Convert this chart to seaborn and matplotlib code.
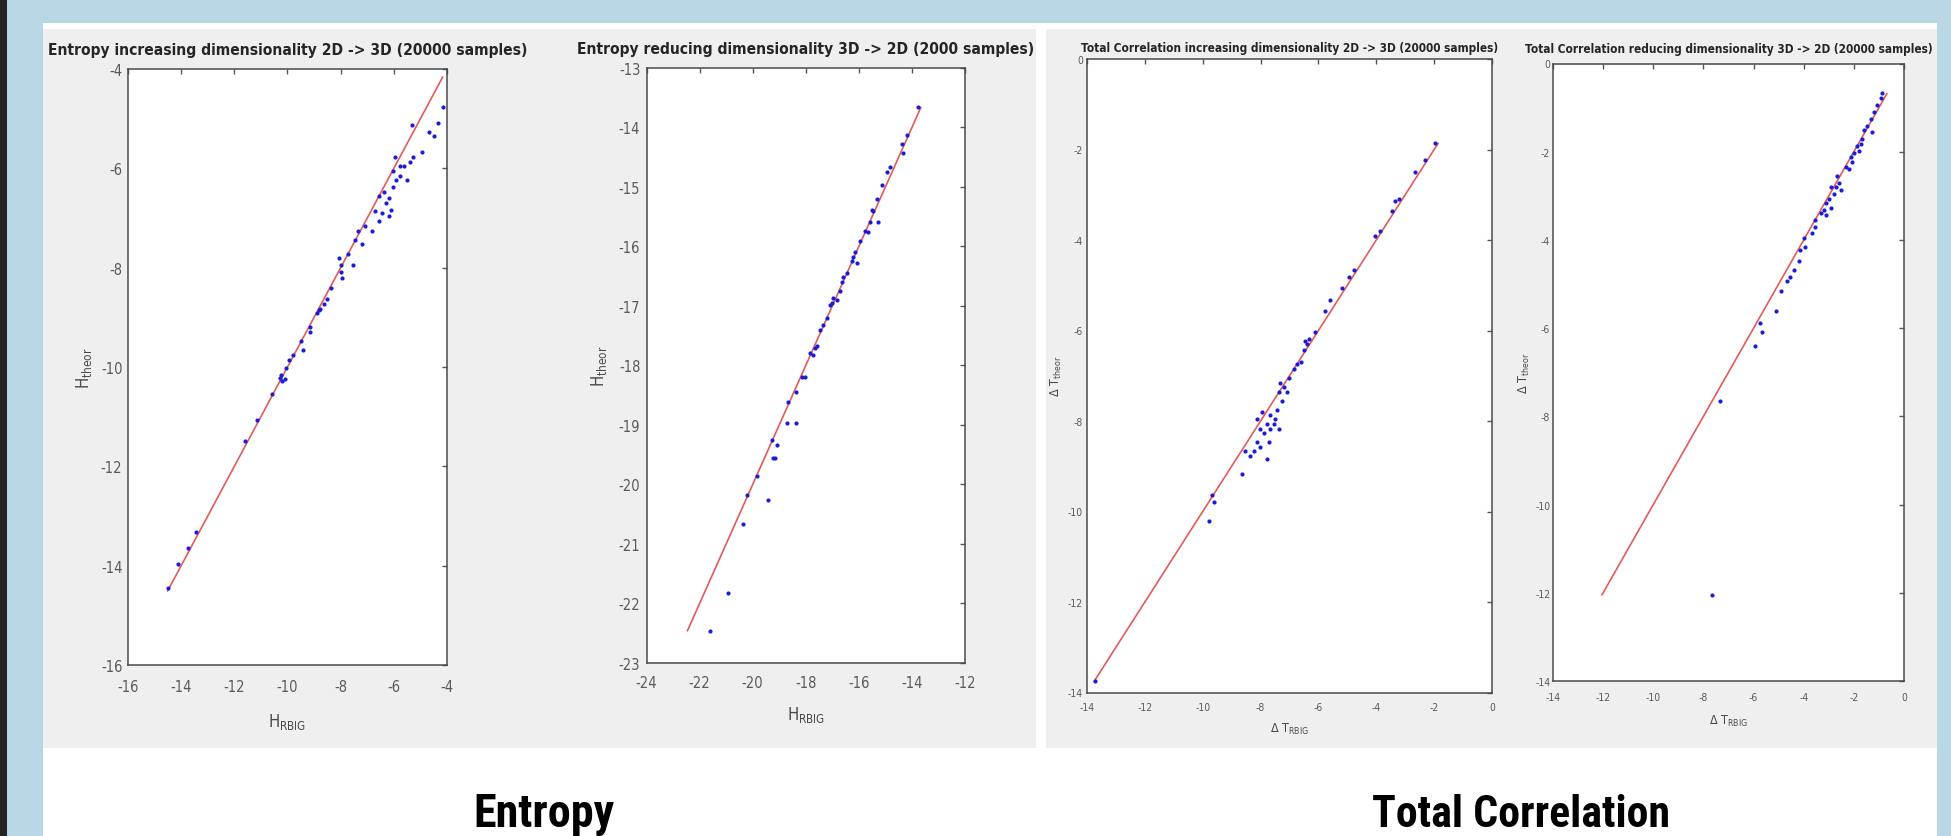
import numpy as np
import pandas as pd
import matplotlib
matplotlib.use("Agg")
import matplotlib.pyplot as plt
import seaborn as sns
from matplotlib.patches import Rectangle
from matplotlib import font_manager as fm

# ---------------- data ----------------
ent_inc_rbig = [
    -14.51, -14.12, -13.73, -13.43, -11.61, -11.16, -10.58, -10.30, -10.20, -10.10,
    -10.25, -10.06, -9.80, -9.48, -9.41, -9.15, -9.15, -8.90, -8.76, -8.63,
    -8.50, -8.37, -8.05, -7.99, -7.73, -7.53, -7.46, -7.33, -7.20, -7.07,
    -6.82, -6.56, -6.56, -6.43, -6.36, -6.30, -6.17, -6.10, -6.04, -6.04,
    -5.97, -5.90, -5.78, -5.78, -5.52, -5.40, -5.33, -5.27, -4.94, -4.68,
    -4.35, -4.16, -8.00, -7.95, -6.70, -6.20, -5.60, -4.50, -9.95, -8.80]
ent_inc_theor = [
    -14.45, -13.96, -13.64, -13.32, -11.49, -11.07, -10.54, -10.22, -10.28, -10.25,
    -10.17, -10.03, -9.75, -9.48, -9.66, -9.20, -9.29, -8.92, -8.83, -8.74,
    -8.64, -8.41, -7.81, -8.09, -7.72, -7.95, -7.44, -7.26, -7.53, -7.17,
    -7.26, -7.07, -6.56, -6.89, -6.47, -6.70, -6.60, -6.84, -6.38, -6.05,
    -5.78, -6.24, -6.15, -5.96, -6.24, -5.87, -5.13, -5.78, -5.68, -5.27,
    -5.08, -4.76, -7.95, -8.20, -6.85, -6.95, -5.95, -5.35, -9.85, -8.85]

ent_red_rbig = [
    -21.61, -20.92, -20.38, -20.23, -19.82, -19.41, -19.22, -19.16, -19.29, -19.10,
    -18.72, -18.37, -18.66, -18.35, -18.16, -18.03, -17.84, -17.72, -17.59, -17.47,
    -17.34, -17.21, -17.09, -16.96, -16.84, -16.71, -16.59, -16.46, -16.27, -16.21,
    -16.08, -15.96, -15.77, -15.58, -15.52, -15.33, -15.27, -15.14, -14.95, -14.83,
    -14.39, -14.32, -14.20, -13.76, -17.65, -17.00, -16.65, -16.15, -15.65, -15.45]
ent_red_theor = [
    -22.46, -21.83, -20.67, -20.18, -19.85, -20.26, -19.56, -19.56, -19.25, -19.33,
    -18.97, -18.97, -18.61, -18.44, -18.20, -18.20, -17.79, -17.83, -17.67, -17.40,
    -17.32, -17.21, -16.98, -16.86, -16.90, -16.75, -16.51, -16.44, -16.24, -16.17,
    -16.28, -15.90, -15.74, -15.59, -15.39, -15.20, -15.59, -14.97, -14.74, -14.66,
    -14.27, -14.43, -14.12, -13.66, -17.70, -16.95, -16.60, -16.10, -15.75, -15.40]

tc_inc_rbig = [
    -13.71, -1.96, -2.30, -2.65, -3.23, -3.34, -3.46, -3.86, -4.03, -4.78,
    -4.95, -5.19, -5.59, -5.76, -6.11, -6.34, -6.45, -6.51, -6.74, -6.86,
    -7.03, -7.20, -7.37, -7.43, -7.26, -7.66, -7.78, -7.55, -7.89, -8.01,
    -8.12, -8.24, -8.35, -8.53, -8.01, -7.78, -7.72, -7.66, -7.49, -7.37,
    -8.64, -9.62, -9.68, -9.79, -8.12, -7.95, -7.09, -7.32, -6.60, -6.40]
tc_inc_theor = [
    -13.75, -1.86, -2.23, -2.49, -3.09, -3.14, -3.35, -3.80, -3.91, -4.67,
    -4.82, -5.07, -5.33, -5.58, -6.04, -6.19, -6.24, -6.44, -6.75, -6.85,
    -7.05, -7.25, -7.36, -7.76, -7.56, -7.86, -8.07, -8.07, -8.27, -8.17,
    -8.47, -8.67, -8.78, -8.67, -8.57, -8.83, -8.47, -8.17, -7.96, -8.17,
    -9.18, -9.79, -9.64, -10.20, -7.96, -7.81, -7.36, -7.15, -6.70, -6.30]

tc_red_rbig = [
    -7.64, -7.33, -5.93, -5.67, -5.73, -5.11, -4.89, -4.67, -4.53, -4.40,
    -4.20, -4.13, -3.93, -4.00, -3.67, -3.53, -3.53, -3.33, -3.20, -3.13,
    -3.00, -2.93, -2.80, -2.73, -2.60, -2.53, -2.33, -2.20, -2.07, -2.00,
    -1.87, -1.80, -1.67, -1.60, -1.47, -1.33, -1.27, -1.20, -1.07, -0.93,
    -0.87, -2.67, -3.13, -2.93, -2.13, -1.73]
tc_red_theor = [
    -12.05, -7.65, -6.40, -6.09, -5.88, -5.62, -5.15, -4.94, -4.84, -4.68,
    -4.48, -4.22, -4.16, -3.96, -3.85, -3.70, -3.54, -3.38, -3.33, -3.17,
    -3.07, -3.28, -2.97, -2.81, -2.71, -2.86, -2.34, -2.39, -2.24, -2.03,
    -1.87, -1.98, -1.72, -1.51, -1.41, -1.25, -1.56, -1.09, -0.94, -0.78,
    -0.68, -2.55, -3.43, -2.81, -2.13, -1.82]

titles = [
    "Entropy increasing dimensionality 2D -> 3D (20000 samples)",
    "Entropy reducing dimensionality 3D -> 2D (2000 samples)",
    "Total Correlation increasing dimensionality 2D -> 3D (20000 samples)",
    "Total Correlation reducing dimensionality 3D -> 2D (20000 samples)",
]
xlabels = [r"$\mathregular{H_{RBIG}}$", r"$\mathregular{H_{RBIG}}$",
           r"$\mathregular{Δ\ T_{RBIG}}$", r"$\mathregular{Δ\ T_{RBIG}}$"]
ylabels = [r"$\mathregular{H_{theor}}$", r"$\mathregular{H_{theor}}$",
           r"$\mathregular{Δ\ T_{theor}}$", r"$\mathregular{Δ\ T_{theor}}$"]
xticks_list = [list(range(-16, -3, 2)), list(range(-24, -11, 2)),
               list(range(-14, 1, 2)), list(range(-14, 1, 2))]
yticks_list = [list(range(-16, -3, 2)), list(range(-23, -12, 1)),
               list(range(-14, 1, 2)), list(range(-14, 1, 2))]
group_labels = ["Entropy", "Total Correlation"]

# ---------------- style ----------------
sns.set_style("white")
plt.rcParams['font.family'] = ['DejaVu Sans']
plt.rcParams['font.stretch'] = 'condensed'
plt.rcParams['mathtext.fontset'] = 'dejavusans'
plt.rcParams['mathtext.default'] = 'regular'

installed = {f.name for f in fm.fontManager.ttflist}
narrow_pref = ['Liberation Sans Narrow', 'Roboto Condensed', 'Arial Narrow',
               'Nimbus Sans Narrow', 'Open Sans Condensed', 'Liberation Sans']
big_family = next((f for f in narrow_pref if f in installed), 'DejaVu Sans')

W, H = 1951, 837
fig = plt.figure(figsize=(W / 100, H / 100), dpi=100)
fig.patch.set_facecolor('#b9d7e5')


def frac(l, t, r, b):
    return [l / W, 1 - b / H, (r - l) / W, (b - t) / H]


def bg(l, t, r, b, color):
    x, y, w, h = frac(l, t, r, b)
    fig.add_artist(Rectangle((x, y), w, h, transform=fig.transFigure,
                             facecolor=color, edgecolor='none', zorder=-10))


bg(0, 0, 7, H, '#242424')
bg(43, 24, 1937, H, '#ffffff')
bg(43, 30, 1036, 749, '#efefef')
bg(1046, 30, 1937, 749, '#efefef')

panels = [
    dict(x=ent_inc_rbig, y=ent_inc_theor, box=(128, 70, 447, 666), tw=480,
         tfs=13, tpad=10.5, tick_fs=10.5, xpad=10, ypad=4, lab_fs=12,
         xlpad=12, ylpad=5),
    dict(x=ent_red_rbig, y=ent_red_theor, box=(646.5, 69, 965, 664), tw=459,
         tfs=13, tpad=11, tick_fs=10.5, xpad=9, ypad=4.5, lab_fs=12,
         xlpad=10, ylpad=7),
    dict(x=tc_inc_rbig, y=tc_inc_theor, box=(1087, 60, 1492, 693.5), tw=417,
         tfs=9.5, tpad=5.5, tick_fs=7.5, xpad=7, ypad=3, lab_fs=9,
         xlpad=6, ylpad=3),
    dict(x=tc_red_rbig, y=tc_red_theor, box=(1553, 64.5, 1904, 682), tw=408,
         tfs=9.5, tpad=8.5, tick_fs=7.5, xpad=8, ypad=2, lab_fs=9,
         xlpad=8, ylpad=2),
]

axes = []
for i, p in enumerate(panels):
    ax = fig.add_axes(frac(*p['box']))
    axes.append(ax)
    ax.set_facecolor('white')
    xs = np.array(p['x'])
    ys = np.array(p['y'])
    lo = min(xs.min(), ys.min())
    hi = max(xs.max(), ys.max())
    sns.lineplot(x=[lo, hi], y=[lo, hi], ax=ax, color='#e35a5a', linewidth=1.2,
                 zorder=2)
    df = pd.DataFrame({'rbig': xs, 'theor': ys})
    sns.scatterplot(data=df, x='rbig', y='theor', ax=ax, color='#1c1cd8',
                    s=9, linewidth=0, zorder=3, legend=False)
    xt, yt = xticks_list[i], yticks_list[i]
    ax.set_xlim(xt[0], xt[-1])
    ax.set_ylim(yt[0], yt[-1])
    ax.set_xticks(xt)
    ax.set_yticks(yt)
    ax.set_xticklabels([str(v) for v in xt])
    ax.set_yticklabels([str(v) for v in yt])
    ax.tick_params(direction='in', top=True, right=True, length=3.5, width=1,
                   color='#555555', labelcolor='#5a5a5a', labelsize=p['tick_fs'])
    ax.tick_params(axis='x', pad=p['xpad'])
    ax.tick_params(axis='y', pad=p['ypad'])
    for s in ax.spines.values():
        s.set_visible(True)
        s.set_color('#4a4a4a')
        s.set_linewidth(1.1)
    ax.set_xlabel(xlabels[i], fontsize=p['lab_fs'], color='#4a4a4a',
                  labelpad=p['xlpad'])
    ax.set_ylabel(ylabels[i], fontsize=p['lab_fs'], color='#4a4a4a',
                  labelpad=p['ylpad'])
    ax.set_title(titles[i], fontsize=p['tfs'], fontweight='bold', color='#252525',
                 pad=p['tpad'])

t_ent = fig.text(544 / W, 1 - 827 / H, group_labels[0], fontsize=34,
                 fontweight='bold', color='black', ha='center', va='baseline',
                 family=big_family, fontstretch='condensed')
t_tc = fig.text(1521 / W, 1 - 827 / H, group_labels[1], fontsize=34,
                fontweight='bold', color='black', ha='center', va='baseline',
                family=big_family, fontstretch='condensed')

# fit text widths to the reference layout
renderer = fig.canvas.get_renderer()


def fit_width(t, target):
    w = t.get_window_extent(renderer=renderer).width
    t.set_fontsize(t.get_fontsize() * target / w)


for ax, p in zip(axes, panels):
    fit_width(ax.title, p['tw'])

# big labels: compromise between reference width and reference cap height
for t, target in ((t_ent, 132), (t_tc, 278)):
    w = t.get_window_extent(renderer=renderer).width
    size_w = t.get_fontsize() * target / w
    t.set_fontsize(min(size_w * 1.07, 41))

fig.savefig("out.png", dpi=100, facecolor=fig.get_facecolor())
